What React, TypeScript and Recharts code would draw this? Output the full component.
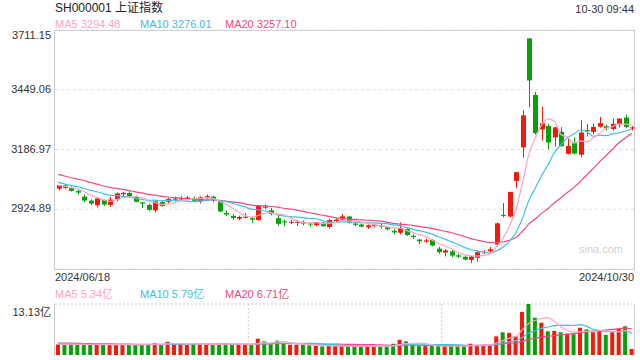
import {
  ComposedChart,
  Bar,
  Line,
  XAxis,
  YAxis,
  CartesianGrid,
  Cell,
} from 'recharts';

const RED = '#f21a0c';
const GREEN = '#08a008';
const MA5_COLOR = '#ffa3c4';
const MA10_COLOR = '#3ec0e2';
const MA20_COLOR = '#ec4a80';
const FONT = 'Arial, "Liberation Sans", "Noto Sans CJK SC", sans-serif';

const dates = [
  '06-18', '06-19', '06-20', '06-21', '06-24', '06-25', '06-26', '06-27', '06-28',
  '07-01', '07-02', '07-03', '07-04', '07-05', '07-08', '07-09', '07-10', '07-11', '07-12',
  '07-15', '07-16', '07-17', '07-18', '07-19', '07-22', '07-23', '07-24', '07-25', '07-26',
  '07-29', '07-30', '07-31',
  '08-01', '08-02', '08-05', '08-06', '08-07', '08-08', '08-09', '08-12', '08-13', '08-14',
  '08-15', '08-16', '08-19', '08-20', '08-21', '08-22', '08-23', '08-26', '08-27', '08-28',
  '08-29', '08-30',
  '09-02', '09-03', '09-04', '09-05', '09-06', '09-09', '09-10', '09-11', '09-12', '09-13',
  '09-18', '09-19', '09-20', '09-23', '09-24', '09-25', '09-26', '09-27', '09-30',
  '10-08', '10-09', '10-10', '10-11', '10-14', '10-15', '10-16', '10-17', '10-18', '10-21',
  '10-22', '10-23', '10-24', '10-25', '10-28', '10-29', '10-30',
];

const opens = [
  3014.8, 3029.5, 3017.0, 3004.6, 2980.0, 2962.5, 2942.0, 2966.0, 2944.0,
  2968.0, 2991.0, 2996.0, 2980.0, 2955.0, 2944.0, 2920.0, 2956.0, 2958.0, 2968.0,
  2968.0, 2970.0, 2973.0, 2960.0, 2976.0, 2980.0, 2961.0, 2908.0, 2895.0, 2883.0,
  2889.0, 2886.0, 2878.0,
  2936.0, 2920.0, 2886.0, 2872.0, 2866.0, 2866.0, 2870.0, 2862.0, 2855.0, 2866.0,
  2847.0, 2873.0, 2880.0, 2893.0, 2862.0, 2858.0, 2846.0, 2852.0, 2853.0, 2845.0,
  2830.0, 2822.0,
  2838.0, 2808.0, 2792.0, 2783.0, 2790.0, 2752.0, 2735.0, 2740.0, 2723.0, 2716.0,
  2703.0, 2712.0, 2733.0, 2740.0, 2770.0, 2900.0, 2893.0, 3049.0, 3196.0,
  3674.4, 3426.0, 3275.0, 3290.0, 3240.0, 3265.0, 3168.0, 3218.0, 3164.0, 3272.0,
  3264.0, 3287.0, 3289.0, 3277.0, 3298.0, 3327.0, 3280.0,
];

const highs = [
  3031.7, 3035.5, 3024.5, 3011.2, 2990.0, 2968.0, 2973.5, 2968.0, 2979.0,
  2999.0, 3001.0, 3004.0, 2985.0, 2957.0, 2950.0, 2962.0, 2963.0, 2975.0, 2980.0,
  2982.0, 2983.0, 2980.0, 2982.0, 2990.0, 2985.0, 2962.0, 2920.0, 2903.0, 2897.0,
  2908.0, 2890.0, 2940.0,
  2946.0, 2930.0, 2905.0, 2880.0, 2878.0, 2876.0, 2875.0, 2866.0, 2870.0, 2868.0,
  2882.0, 2885.0, 2905.0, 2895.0, 2870.0, 2862.0, 2858.0, 2862.0, 2860.0, 2850.0,
  2838.0, 2867.0,
  2840.0, 2815.0, 2795.0, 2795.0, 2794.0, 2760.0, 2750.0, 2748.0, 2730.0, 2720.0,
  2720.0, 2744.0, 2746.0, 2759.0, 2866.0, 2952.0, 3001.0, 3087.8, 3358.6,
  3674.4, 3440.0, 3375.0, 3300.0, 3286.0, 3285.0, 3237.0, 3240.0, 3315.0, 3299.0,
  3300.0, 3330.0, 3297.0, 3322.0, 3325.0, 3340.0, 3290.0,
];

const lows = [
  3006.4, 3012.0, 3002.5, 2990.0, 2955.0, 2943.0, 2933.0, 2940.0, 2936.0,
  2960.0, 2983.0, 2978.0, 2955.0, 2930.0, 2917.0, 2911.0, 2937.0, 2950.0, 2960.0,
  2960.0, 2964.0, 2957.0, 2950.0, 2970.0, 2955.0, 2912.0, 2895.0, 2878.0, 2876.0,
  2885.0, 2866.0, 2874.0,
  2926.0, 2898.0, 2852.0, 2850.0, 2860.0, 2852.0, 2855.0, 2848.0, 2850.0, 2848.0,
  2840.0, 2868.0, 2878.0, 2862.0, 2850.0, 2845.0, 2838.0, 2845.0, 2840.0, 2832.0,
  2815.0, 2815.0,
  2808.0, 2795.0, 2772.0, 2778.0, 2762.0, 2730.0, 2718.0, 2715.0, 2710.0, 2702.0,
  2689.7, 2695.0, 2729.0, 2735.0, 2760.0, 2889.0, 2889.0, 3017.0, 3152.0,
  3372.0, 3252.0, 3226.0, 3188.0, 3200.0, 3200.0, 3166.0, 3165.0, 3152.0, 3244.0,
  3254.0, 3283.0, 3270.0, 3270.0, 3283.0, 3280.0, 3270.0,
];

const closes = [
  3030.25, 3018.05, 3005.44, 2998.14, 2963.10, 2950.00, 2972.53, 2945.85, 2967.40,
  2994.73, 2997.01, 2982.38, 2957.57, 2949.93, 2922.45, 2959.37, 2939.36, 2970.39, 2971.30,
  2974.01, 2976.30, 2962.17, 2977.13, 2982.31, 2964.22, 2915.37, 2901.95, 2886.43, 2890.90,
  2891.85, 2879.30, 2938.75,
  2932.39, 2905.34, 2860.70, 2867.28, 2869.90, 2869.83, 2862.19, 2858.20, 2867.95, 2850.65,
  2877.36, 2879.43, 2893.67, 2866.66, 2856.58, 2848.77, 2854.37, 2855.52, 2848.73, 2837.43,
  2823.11, 2842.21,
  2811.04, 2802.98, 2784.28, 2788.31, 2765.81, 2736.49, 2744.19, 2721.80, 2717.12, 2704.09,
  2717.28, 2736.02, 2736.81, 2748.92, 2863.13, 2896.31, 3000.95, 3087.53, 3336.50,
  3489.78, 3258.86, 3301.93, 3217.74, 3284.32, 3201.29, 3202.95, 3169.38, 3261.56, 3268.11,
  3285.87, 3302.80, 3280.26, 3299.70, 3322.20, 3286.41, 3283.83,
];

// volume, 亿手
const volumes = [
  2.7, 2.6, 3.0, 2.6, 2.7, 2.6, 2.7, 2.6, 2.7,
  2.8, 2.6, 2.7, 2.6, 2.6, 2.7, 3.0, 2.6, 3.4, 2.8,
  2.7, 2.6, 2.7, 2.8, 2.8, 2.6, 2.9, 2.9, 2.7, 2.7,
  2.6, 2.6, 4.2,
  3.5, 2.8, 3.7, 3.0, 2.6, 2.6, 2.6, 2.5, 2.4, 2.2,
  2.3, 2.3, 2.3, 2.3, 2.3, 2.3, 2.3, 2.2, 2.2, 2.2,
  2.9, 3.9,
  3.5, 2.6, 2.3, 2.3, 2.3, 2.3, 2.3, 2.3, 2.3, 2.3,
  2.9, 2.6, 2.6, 2.6, 4.8, 5.85, 5.7, 4.85, 11.1,
  13.13, 9.6, 8.3, 6.1, 6.2, 5.85, 5.5, 5.35, 7.0, 6.6,
  5.85, 6.4, 5.2, 5.85, 6.7, 7.4, 1.55,
];

// sessions before 06-18, needed so the averages start at the left edge
const priorCloses = [
  3157.97, 3158.54, 3116.39, 3088.87, 3124.04, 3109.57, 3111.02, 3091.68, 3086.81,
  3078.49, 3091.20, 3065.40, 3048.79, 3051.28, 3028.05, 3037.47, 3028.92, 3032.63, 3015.89,
];
const priorVolumes = [
  3.6, 3.5, 3.4, 3.3, 3.2, 3.5, 3.2, 3.0, 3.1, 3.3, 3.0, 3.2, 3.1, 2.9, 2.8, 3.0, 2.8, 2.7, 2.9,
];

const priceTicks = [2662.80, 2924.89, 3186.97, 3449.06, 3711.15];
const volTicks = [0, 13.13];

function movingAvg(series: number[], prior: number[], n: number) {
  const all = [...prior, ...series];
  return series.map((_, i) => {
    const end = prior.length + i + 1;
    const win = all.slice(Math.max(0, end - n), end);
    return win.reduce((a, b) => a + b, 0) / win.length;
  });
}

const ma5 = movingAvg(closes, priorCloses, 5);
const ma10 = movingAvg(closes, priorCloses, 10);
const ma20 = movingAvg(closes, priorCloses, 20);
const vma5 = movingAvg(volumes, priorVolumes, 5);
const vma10 = movingAvg(volumes, priorVolumes, 10);
const vma20 = movingAvg(volumes, priorVolumes, 20);

const rows = dates.map((d, i) => ({
  date: d,
  open: opens[i],
  high: highs[i],
  low: lows[i],
  close: closes[i],
  range: [lows[i], highs[i]],
  vol: volumes[i],
  ma5: ma5[i],
  ma10: ma10[i],
  ma20: ma20[i],
  vma5: vma5[i],
  vma10: vma10[i],
  vma20: vma20[i],
}));

const last = rows.length - 1;

function Candle(props: any) {
  const { x, y, width, height, payload } = props;
  const { open, close, high, low } = payload;
  const color = close >= open ? RED : GREEN;
  const top = Math.min(y, y + height);
  const h = Math.abs(height);
  const k = high > low ? h / (high - low) : 0;
  const bodyTop = top + (high - Math.max(open, close)) * k;
  const bodyBot = top + (high - Math.min(open, close)) * k;
  const cx = Math.round(x + width / 2) + 0.5;
  return (
    <g>
      <line x1={cx} x2={cx} y1={top} y2={top + h} stroke={color} strokeWidth={1} />
      <rect x={cx - width / 2} y={bodyTop} width={width} height={Math.max(1, bodyBot - bodyTop)} fill={color} />
    </g>
  );
}

function PriceTick(props: any) {
  const { x, y, payload } = props;
  const v = payload.value;
  const dy = v === priceTicks[priceTicks.length - 1] ? 5 : v === priceTicks[0] ? -6 : -1;
  return (
    <text x={x} y={y + dy} textAnchor="end" dominantBaseline="central" fontSize={11} fill="#333" fontFamily={FONT}>
      {v.toFixed(2)}
    </text>
  );
}

function VolTick(props: any) {
  const { x, y, payload } = props;
  const v = payload.value;
  const dy = v === 0 ? -6 : 8;
  return (
    <text x={x} y={y + dy} textAnchor="end" dominantBaseline="central" fontSize={11} fill="#333" fontFamily={FONT}>
      {v === 0 ? '0' : `${v.toFixed(2)}亿`}
    </text>
  );
}

function Label({ x, y, color = '#333', size = 11, anchor = 'start', children }: any) {
  const style: any = {
    position: 'absolute',
    top: y - (size + 2) / 2,
    fontSize: size,
    lineHeight: `${size + 2}px`,
    color,
    whiteSpace: 'nowrap',
  };
  if (anchor === 'end') style.right = 640 - x;
  else style.left = x;
  return <div style={style}>{children}</div>;
}

const lineProps = {
  type: 'monotone' as const,
  dot: false,
  activeDot: false,
  strokeWidth: 1.2,
  isAnimationActive: false,
};

export default function App() {
  return (
    <div
      style={{
        position: 'absolute',
        left: 0,
        top: 0,
        width: 640,
        height: 360,
        background: '#fff',
        fontFamily: FONT,
        overflow: 'hidden',
      }}
    >
      <Label x={55} y={8} size={12} color="#222">SH000001 上证指数</Label>
      <Label x={634} y={9} anchor="end">10-30 09:44</Label>

      <Label x={55} y={24} color={MA5_COLOR}>MA5 {ma5[last].toFixed(2)}</Label>
      <Label x={140} y={24} color={MA10_COLOR}>MA10 {ma10[last].toFixed(2)}</Label>
      <Label x={225} y={24} color={MA20_COLOR}>MA20 {ma20[last].toFixed(2)}</Label>

      <Label x={623} y={249} anchor="end" color="#cfcfcf">sina.com</Label>

      {/* price panel */}
      <div style={{ position: 'absolute', left: 54, top: 30, width: 581, height: 240, border: '1px solid #ccc', boxSizing: 'border-box' }} />
      <div style={{ position: 'absolute', left: 0, top: 0 }}>
        <ComposedChart width={640} height={275} data={rows} margin={{ top: 30, right: 5, bottom: 6, left: 0 }}>
          <CartesianGrid vertical={false} stroke="#ddd" strokeDasharray="3 3" />
          <XAxis dataKey="date" hide />
          <YAxis
            domain={[priceTicks[0], priceTicks[priceTicks.length - 1]]}
            ticks={priceTicks}
            width={55}
            axisLine={false}
            tickLine={false}
            tickSize={0}
            tickMargin={4}
            allowDataOverflow
            tick={(p: any) => <PriceTick {...p} />}
          />
          <Bar dataKey="range" barSize={5} shape={(p: any) => <Candle {...p} />} isAnimationActive={false} />
          <Line dataKey="ma20" stroke={MA20_COLOR} {...lineProps} />
          <Line dataKey="ma10" stroke={MA10_COLOR} {...lineProps} />
          <Line dataKey="ma5" stroke={MA5_COLOR} {...lineProps} />
        </ComposedChart>
      </div>

      <Label x={55} y={277}>2024/{dates[0].replace('-', '/')}</Label>
      <Label x={634} y={277} anchor="end">2024/{dates[last].replace('-', '/')}</Label>

      <Label x={55} y={294} color={MA5_COLOR}>MA5 {vma5[last].toFixed(2)}亿</Label>
      <Label x={140} y={294} color={MA10_COLOR}>MA10 {vma10[last].toFixed(2)}亿</Label>
      <Label x={225} y={294} color={MA20_COLOR}>MA20 {vma20[last].toFixed(2)}亿</Label>

      {/* volume panel */}
      <div style={{ position: 'absolute', left: 54, top: 304, width: 1, height: 52, background: '#ccc' }} />
      <div style={{ position: 'absolute', left: 634, top: 304, width: 1, height: 52, background: '#ccc' }} />
      <div style={{ position: 'absolute', left: 0, top: 290 }}>
        <ComposedChart width={640} height={70} data={rows} margin={{ top: 14, right: 5, bottom: 5, left: 0 }}>
          <CartesianGrid
            stroke="#ccc"
            strokeDasharray="2 2"
            horizontalCoordinatesGenerator={({ offset }: any) => [offset.top]}
            verticalCoordinatesGenerator={({ offset }: any) => [
              offset.left + offset.width / 3,
              offset.left + (offset.width * 2) / 3,
            ]}
          />
          <XAxis dataKey="date" hide />
          <YAxis
            domain={[0, volTicks[1]]}
            ticks={volTicks}
            width={55}
            axisLine={false}
            tickLine={false}
            tickSize={0}
            tickMargin={4}
            allowDataOverflow
            tick={(p: any) => <VolTick {...p} />}
          />
          <Bar dataKey="vol" barSize={4} isAnimationActive={false}>
            {rows.map((r, i) => (
              <Cell key={i} fill={r.close >= r.open ? RED : GREEN} />
            ))}
          </Bar>
          <Line dataKey="vma20" stroke={MA20_COLOR} {...lineProps} />
          <Line dataKey="vma10" stroke={MA10_COLOR} {...lineProps} />
          <Line dataKey="vma5" stroke={MA5_COLOR} {...lineProps} />
        </ComposedChart>
      </div>
    </div>
  );
}
